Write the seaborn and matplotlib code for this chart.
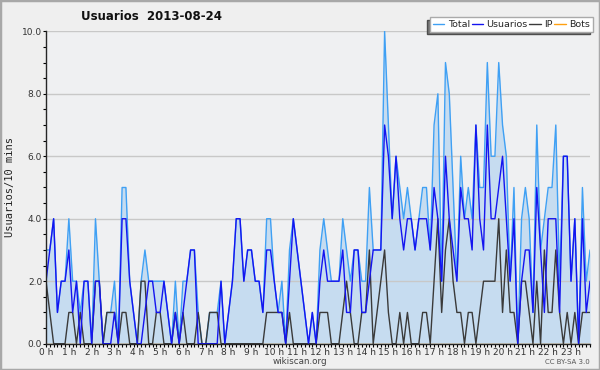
import numpy as np
import matplotlib
matplotlib.use("Agg")
import matplotlib.pyplot as plt
from matplotlib.patches import Rectangle
from matplotlib.ticker import MultipleLocator, FormatStrFormatter
import seaborn as sns

# Valeurs par tranche de 10 minutes (144 tranches sur la journee)
total = [3, 3, 4, 1, 2, 2, 4, 2, 2, 1, 2, 2, 0, 4, 2, 0, 1, 1, 2, 0,
         5, 5, 2, 1, 0, 2, 3, 2, 2, 2, 2, 2, 1, 0, 2, 0, 2, 2, 3, 3,
         1, 0, 0, 1, 1, 1, 2, 0, 1, 2, 4, 4, 2, 3, 3, 2, 2, 1, 4, 4,
         2, 1, 2, 0, 3, 4, 3, 2, 1, 0, 1, 0, 3, 4, 3, 2, 2, 2, 4, 3,
         2, 3, 3, 2, 2, 5, 3, 3, 3, 10, 7, 4, 6, 5, 4, 5, 4, 3, 4, 5,
         5, 3, 7, 8, 2, 9, 8, 5, 2, 6, 4, 5, 4, 7, 5, 5, 9, 6, 6, 9,
         7, 6, 2, 5, 0, 4, 5, 4, 1, 7, 3, 4, 5, 5, 7, 2, 6, 6, 2, 4,
         0, 5, 2, 3]
usuarios = [2, 3, 4, 1, 2, 2, 3, 1, 2, 0, 2, 2, 0, 2, 2, 0, 0, 0, 1, 0,
            4, 4, 2, 1, 0, 0, 1, 2, 2, 1, 1, 2, 1, 0, 1, 0, 1, 2, 3, 3,
            0, 0, 0, 0, 0, 0, 2, 0, 1, 2, 4, 4, 2, 3, 3, 2, 2, 1, 3, 3,
            2, 1, 1, 0, 2, 4, 3, 2, 1, 0, 1, 0, 2, 3, 2, 2, 2, 2, 3, 1,
            1, 3, 3, 1, 1, 2, 3, 3, 3, 7, 6, 4, 6, 4, 3, 4, 4, 3, 4, 4,
            4, 3, 5, 4, 2, 6, 4, 3, 2, 5, 4, 4, 3, 7, 4, 3, 7, 4, 4, 5,
            6, 4, 2, 4, 0, 2, 3, 3, 1, 5, 3, 1, 4, 4, 4, 1, 6, 6, 2, 4,
            0, 4, 1, 2]
ip = [2, 1, 0, 0, 0, 0, 1, 1, 0, 1, 0, 0, 0, 2, 2, 0, 1, 1, 1, 0,
      1, 1, 0, 0, 0, 2, 2, 0, 0, 1, 1, 0, 0, 0, 1, 0, 1, 0, 0, 0,
      1, 0, 0, 1, 1, 1, 0, 0, 0, 0, 0, 0, 0, 0, 0, 0, 0, 0, 1, 1,
      1, 1, 1, 0, 1, 0, 0, 0, 0, 0, 0, 0, 1, 1, 1, 0, 0, 0, 1, 2,
      1, 0, 0, 1, 1, 3, 0, 1, 2, 3, 1, 0, 0, 1, 0, 1, 0, 0, 0, 1,
      1, 0, 2, 4, 1, 3, 4, 2, 1, 1, 0, 1, 1, 0, 1, 2, 2, 2, 2, 4,
      1, 3, 1, 1, 0, 2, 2, 1, 0, 2, 0, 3, 1, 1, 3, 1, 0, 1, 0, 1,
      0, 1, 1, 1]
bots = [0] * 144

hour_ticks = list(range(24))
hour_labels = [f"{h} h" for h in hour_ticks]
slots = np.arange(len(total)) / 6.0   # position en heures

BG = "#efefef"
C_TOTAL = "#3fa0f4"
C_FILL = "#c6dcf0"
C_USR = "#1414f0"
C_IP = "#3a3a3a"
C_BOTS = "#ffa010"

sns.set_theme(style="ticks")
plt.rcParams['font.family'] = ['DejaVu Sans']
plt.rcParams['axes.linewidth'] = 1.0

fig = plt.figure(figsize=(6.0, 3.7), dpi=100, facecolor=BG)
ax = fig.add_axes([0.0767, 0.0711, 0.9067, 0.8443], facecolor="#eff0f2")

ax.fill_between(slots, 0, total, color=C_FILL, linewidth=0, zorder=1)
for y in [2, 4, 6, 8, 10]:
    ax.axhline(y, color="#c8c8c8", lw=1.0, zorder=1.5)

sns.lineplot(x=slots, y=bots, ax=ax, color=C_BOTS, lw=1.0, zorder=2)
sns.lineplot(x=slots, y=total, ax=ax, color=C_TOTAL, lw=1.0, zorder=3)
sns.lineplot(x=slots, y=ip, ax=ax, color=C_IP, lw=1.0, zorder=4)
sns.lineplot(x=slots, y=usuarios, ax=ax, color=C_USR, lw=1.0, zorder=5)

ax.set_xlim(0, slots[-1])
ax.set_ylim(0, 10)
ax.set_xticks(hour_ticks)
ax.set_xticklabels(hour_labels)
ax.xaxis.set_minor_locator(MultipleLocator(1 / 6))
ax.yaxis.set_major_locator(MultipleLocator(2))
ax.yaxis.set_minor_locator(MultipleLocator(0.5))
ax.yaxis.set_major_formatter(FormatStrFormatter("%.1f"))
ax.tick_params(axis="both", which="major", length=2.2, width=0.8, colors="black",
               labelsize=6.5, pad=0.6)
ax.tick_params(axis="both", which="minor", length=2.2, width=0.8, colors="black")
for lab in ax.get_xticklabels() + ax.get_yticklabels():
    lab.set_color("#333333")
ax.set_xlabel("")
ax.set_ylabel("Usuarios/10 mins", family="DejaVu Sans Mono", fontsize=7.5,
              color="#222222", labelpad=5)
sns.despine(ax=ax, top=True, right=True)
ax.spines["left"].set_zorder(6)
ax.spines["bottom"].set_zorder(6)

handles = [plt.Line2D([], [], color=c, lw=1.0) for c in (C_TOTAL, C_USR, C_IP, C_BOTS)]
leg = ax.legend(handles, ["Total", "Usuarios", "IP", "Bots"], ncol=4,
                loc="upper right", bbox_to_anchor=(0.988, 0.954),
                bbox_transform=fig.transFigure, fontsize=6.8, frameon=True,
                fancybox=False, handlelength=1.2, handletextpad=0.35,
                columnspacing=0.2, borderpad=0.3, borderaxespad=0,
                shadow={"ox": -2, "oy": -2, "facecolor": "#777777", "alpha": 1})
leg.get_frame().set_edgecolor("#aaaaaa")
leg.get_frame().set_linewidth(1.0)
leg.get_frame().set_facecolor("white")
leg.set_zorder(10)

fig.text(0.252, 0.955, "Usuarios  2013-08-24", ha="center", va="center",
         fontsize=8.5, fontweight="bold", color="#111111")
fig.text(0.5, 0.022, "wikiscan.org", ha="center", va="center",
         fontsize=6.3, color="#444444")
fig.text(0.983, 0.022, "CC BY-SA 3.0", ha="right", va="center",
         fontsize=5, color="#555555")
fig.patches.append(Rectangle((0, 0), 1, 1, transform=fig.transFigure, fill=False,
                             edgecolor="#a8a8a8", lw=2.5))

fig.savefig("out.png", dpi=100, facecolor=BG)
